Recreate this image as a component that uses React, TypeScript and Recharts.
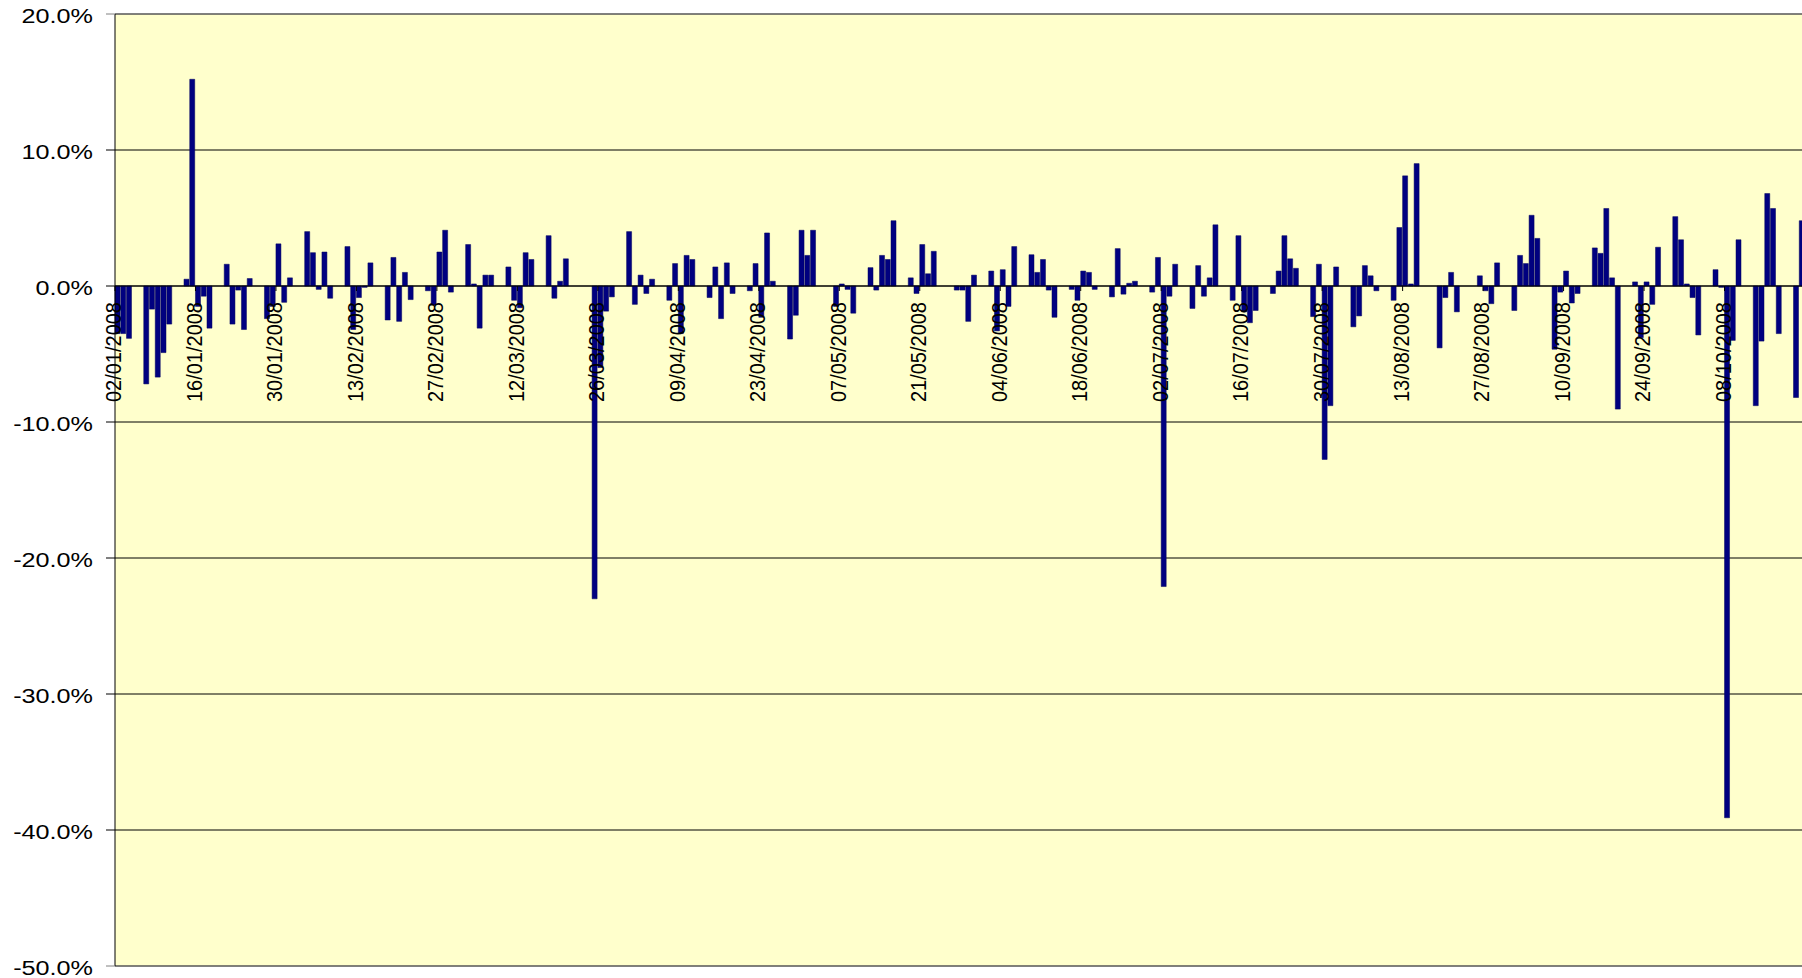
import React from 'react';
import { BarChart, Bar, XAxis, YAxis, CartesianGrid, ReferenceLine } from 'recharts';

// Daily returns (%) per month: trading day of month + return
const janDays = [2, 3, 4, 7, 8, 9, 10, 11, 14, 15, 16, 17, 18, 21, 22, 23, 24, 25, 28, 29, 30, 31];
const janReturns = [-3.5, -3.5, -3.85, -7.2, -1.7, -6.7, -4.9, -2.8, 0.5, 15.2, -1.5, -0.75, -3.1, 1.6, -2.8, -0.3, -3.2, 0.55, -2.4, -1.5, 3.1, -1.2];

const febDays = [1, 4, 5, 6, 7, 8, 11, 12, 13, 14, 15, 18, 19, 20, 21, 22, 25, 26, 27, 28, 29];
const febReturns = [0.6, 4.0, 2.45, -0.25, 2.5, -0.9, 2.9, -3.2, -0.85, -0.1, 1.7, -2.5, 2.1, -2.6, 1.0, -1.0, -0.35, -1.4, 2.5, 4.1, -0.45];

const marDays = [3, 4, 5, 6, 7, 10, 11, 12, 13, 14, 17, 18, 19, 20, 25, 26, 27, 28, 31];
const marReturns = [3.05, 0.15, -3.1, 0.8, 0.8, 1.4, -1.05, -1.6, 2.45, 1.95, 3.7, -0.9, 0.35, 2.0, -23.0, -6.0, -1.85, -0.8, 4.0];

const aprDays = [1, 2, 3, 4, 7, 8, 9, 10, 11, 14, 15, 16, 17, 18, 21, 22, 23, 24, 25, 28, 29, 30];
const aprReturns = [-1.35, 0.8, -0.55, 0.5, -1.05, 1.65, -3.5, 2.25, 1.95, -0.85, 1.4, -2.4, 1.7, -0.55, -0.35, 1.65, -2.3, 3.9, 0.35, -3.9, -2.15, 4.1];

const mayDays = [1, 2, 6, 7, 8, 9, 12, 13, 14, 15, 16, 19, 20, 21, 22, 23, 27, 28, 29, 30];
const mayReturns = [2.25, 4.1, -1.5, 0.15, -0.25, -2.0, 1.35, -0.3, 2.25, 1.95, 4.8, 0.6, -0.55, 3.05, 0.9, 2.55, -0.3, -0.3, -2.6, 0.8];

const junDays = [2, 3, 4, 5, 6, 9, 10, 11, 12, 13, 16, 17, 18, 19, 20, 23, 24, 25, 26, 27, 30];
const junReturns = [1.1, -3.3, 1.2, -1.5, 2.9, 2.3, 1.0, 1.95, -0.3, -2.3, -0.25, -1.05, 1.1, 1.0, -0.25, -0.8, 2.75, -0.6, 0.2, 0.35, -0.45];

const julDays = [1, 2, 3, 4, 7, 8, 9, 10, 11, 14, 15, 16, 17, 18, 21, 22, 23, 24, 25, 28, 29, 30, 31];
const julReturns = [2.1, -22.1, -0.75, 1.6, -1.65, 1.5, -0.75, 0.6, 4.5, -1.05, 3.7, -1.9, -2.7, -1.8, -0.55, 1.1, 3.7, 2.0, 1.3, -2.25, 1.6, -12.75, -8.8];

const augDays = [1, 4, 5, 6, 7, 8, 11, 12, 13, 14, 15, 19, 20, 21, 22, 26, 27, 28, 29];
const augReturns = [1.4, -3.0, -2.2, 1.5, 0.75, -0.35, -1.05, 4.3, 8.1, 0.15, 9.0, -4.55, -0.85, 1.0, -1.9, 0.75, -0.35, -1.3, 1.7];

const sepDays = [1, 2, 3, 4, 5, 8, 9, 10, 11, 12, 15, 16, 17, 18, 19, 22, 23, 24, 25, 26, 29, 30];
const sepReturns = [-1.8, 2.25, 1.65, 5.2, 3.5, -4.65, -0.45, 1.1, -1.25, -0.55, 2.8, 2.4, 5.7, 0.6, -9.05, 0.3, -3.8, 0.3, -1.35, 2.85, 5.1, 3.4];

const octDays = [1, 2, 3, 6, 7, 8, 9, 10, 13, 14, 15, 16, 17, 20, 21];
const octReturns = [0.15, -0.85, -3.6, 1.2, -0.1, -39.1, -4.0, 3.4, -8.8, -4.05, 6.8, 5.7, -3.5, -8.2, 4.8];

const tickDates = [
  '02/01/2008', '16/01/2008', '30/01/2008', '13/02/2008', '27/02/2008', '12/03/2008', '26/03/2008',
  '09/04/2008', '23/04/2008', '07/05/2008', '21/05/2008', '04/06/2008', '18/06/2008', '02/07/2008',
  '16/07/2008', '30/07/2008', '13/08/2008', '27/08/2008', '10/09/2008', '24/09/2008', '08/10/2008',
];
const percentTicks = [20, 10, 0, -10, -20, -30, -40, -50];

const Y_MAX = 20;
const Y_MIN = -50;

const months = [
  { m: 1, days: janDays, vals: janReturns },
  { m: 2, days: febDays, vals: febReturns },
  { m: 3, days: marDays, vals: marReturns },
  { m: 4, days: aprDays, vals: aprReturns },
  { m: 5, days: mayDays, vals: mayReturns },
  { m: 6, days: junDays, vals: junReturns },
  { m: 7, days: julDays, vals: julReturns },
  { m: 8, days: augDays, vals: augReturns },
  { m: 9, days: sepDays, vals: sepReturns },
  { m: 10, days: octDays, vals: octReturns },
];

const pad = (n: number) => String(n).padStart(2, '0');

// one row per calendar day (date axis), null on weekends and holidays
const buildRows = () => {
  const lookup = new Map<string, number>();
  months.forEach(({ m, days, vals }) => {
    days.forEach((d, i) => lookup.set(`${pad(d)}/${pad(m)}/2008`, vals[i]));
  });
  const rows: { date: string; ret: number | null }[] = [];
  const start = Date.UTC(2008, 0, 2);
  const end = Date.UTC(2008, 9, 21);
  for (let t = start; t <= end; t += 86400000) {
    const dt = new Date(t);
    const key = `${pad(dt.getUTCDate())}/${pad(dt.getUTCMonth() + 1)}/2008`;
    rows.push({ date: key, ret: lookup.has(key) ? (lookup.get(key) as number) : null });
  }
  return rows;
};

const data = buildRows();

const CHART_W = 1805;
const CHART_H = 978;
const X_AXIS_H = 1;
const MARGIN = { top: 14, right: 0, bottom: 12 - X_AXIS_H, left: 0 };
const AXIS_W = 115;
const PLOT_H = CHART_H - MARGIN.top - MARGIN.bottom - X_AXIS_H;
const ZERO_Y = MARGIN.top + (PLOT_H * Y_MAX) / (Y_MAX - Y_MIN);
const HALF_BAND = (CHART_W - AXIS_W) / data.length / 2;
const FONT = '"Liberation Sans", Arial, sans-serif';

const PercentTick = (props: any) => {
  const { y, payload } = props;
  const edge = payload.value === Y_MAX || payload.value === Y_MIN;
  return (
    <g>
      <line x1={AXIS_W - 9} x2={AXIS_W} y1={y} y2={y} stroke={edge ? '#808080' : '#000'} strokeWidth={1} />
      <text
        transform={`translate(${AXIS_W - 22},${y + 8.7}) scale(1.2,1)`}
        textAnchor="end"
        fontSize={21}
        fontFamily={FONT}
        fill="#000"
      >
        {`${payload.value.toFixed(1)}%`}
      </text>
    </g>
  );
};

// labels every two weeks, written upward just under the zero line
const DateTick = (props: any) => {
  const { x, payload } = props;
  if (!tickDates.includes(payload.value)) return <g />;
  return (
    <g>
      <line x1={x - HALF_BAND} x2={x - HALF_BAND} y1={ZERO_Y} y2={ZERO_Y + 5} stroke="#000" />
      <text
        transform={`translate(${x + 3.5},${ZERO_Y + 16}) scale(1.1,1) rotate(-90)`}
        textAnchor="end"
        fontSize={20}
        fontFamily={FONT}
        fill="#000"
      >
        {payload.value}
      </text>
    </g>
  );
};

export default function App() {
  return (
    <div style={{ position: 'absolute', left: 0, top: 0, width: 1802, height: 978, overflow: 'hidden', background: '#fff' }}>
      <BarChart width={CHART_W} height={CHART_H} data={data} margin={MARGIN} barGap={0}>
        <CartesianGrid vertical={false} stroke="#000" fill="#FFFFCC" fillOpacity={1} />
        <XAxis
          dataKey="date"
          interval={0}
          height={X_AXIS_H}
          axisLine={false}
          tickLine={false}
          tick={<DateTick />}
        />
        <YAxis
          type="number"
          domain={[Y_MIN, Y_MAX]}
          ticks={percentTicks}
          width={AXIS_W}
          axisLine={{ stroke: '#000' }}
          tickLine={false}
          tick={<PercentTick />}
          allowDataOverflow
        />
        <ReferenceLine y={Y_MAX} stroke="#808080" />
        <ReferenceLine y={Y_MIN} stroke="#808080" />
        <Bar dataKey="ret" fill="#000080" stroke="#00005e" strokeWidth={0.5} barSize={5} isAnimationActive={false} />
        <ReferenceLine y={0} stroke="#000" />
      </BarChart>
    </div>
  );
}
